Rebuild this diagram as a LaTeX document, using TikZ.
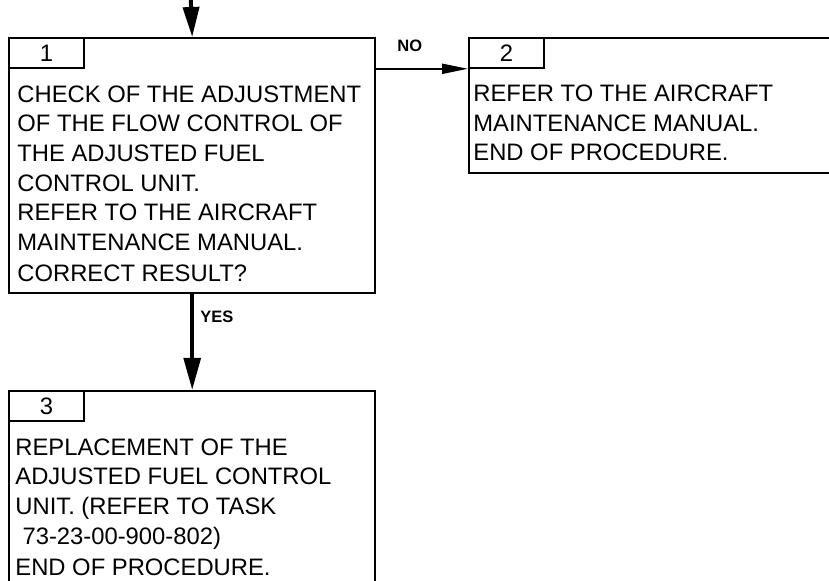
\documentclass[tikz,border=0pt]{standalone}
\usepackage{fontspec}
\setmainfont{Liberation Sans}
\usetikzlibrary{arrows.meta}
\tikzset{
  stepbox/.style={draw, line width=1.2pt, minimum width=183pt, inner sep=0pt, anchor=north west},
  numtab/.style={draw, line width=0.9pt, minimum width=37.5pt, minimum height=15pt, inner sep=0pt,
    anchor=north west, font=\fontsize{11.9}{14.8}\selectfont},
  steptext/.style={align=left, inner sep=0pt, anchor=base west, font=\fontsize{11.9}{14.8}\selectfont},
  lbl/.style={inner sep=0pt, anchor=base west, font=\fontsize{8.25}{10}\selectfont\bfseries},
  flow/.style={line width=2pt, -{Triangle[length=15pt, width=8pt]}},
}
\begin{document}
\begin{tikzpicture}[x=0.5pt, y=0.5pt]
  \useasboundingbox (0,0) rectangle (829,-581);
  \clip (0,0) rectangle (829,-581);
  % step 1 (text placed by its last baseline)
  \node[stepbox, minimum height=127.5pt] (b1) at (8,-37) {};
  \node[numtab] (t1) at (b1.north west) {1};
  \node[steptext] (x1) at (17,-282) {CHECK OF THE ADJUSTMENT\\OF THE FLOW CONTROL OF\\THE ADJUSTED FUEL\\CONTROL UNIT.\\REFER TO THE AIRCRAFT\\MAINTENANCE MANUAL.\\[1pt]CORRECT RESULT?};
  % step 2
  \node[stepbox, minimum width=200pt, minimum height=67.5pt] (b2) at (468,-37) {};
  \node[numtab] (t2) at (b2.north west) {2};
  \node[steptext] (x2) at (473,-160.7) {REFER TO THE AIRCRAFT\\MAINTENANCE MANUAL.\\END OF PROCEDURE.};
  % step 3
  \node[stepbox, minimum height=110pt] (b3) at (8,-390) {};
  \node[numtab] (t3) at (b3.north west) {3};
  \node[steptext] (x3) at (15,-575.7) {REPLACEMENT OF THE\\ADJUSTED FUEL CONTROL\\UNIT. (REFER TO TASK\\\hspace*{.3em}73-23-00-900-802)\\[1pt]END OF PROCEDURE.};
  % connectors
  \coordinate (entry) at (190,20);
  \draw[flow] (entry) -- (b1.north);
  \draw[flow, -{Triangle[length=16pt, width=8.3pt]}] (b1.south) -- (b3.north);
  \draw[line width=1pt, -{Triangle[length=13pt, width=5pt]}] (t1.south -| b1.east) -- (t1.south -| t2.west);
  \node[lbl] (no) at (397,-51.5) {NO};
  \node[lbl] (yes) at (200,-322.7) {YES};
\end{tikzpicture}
\end{document}
